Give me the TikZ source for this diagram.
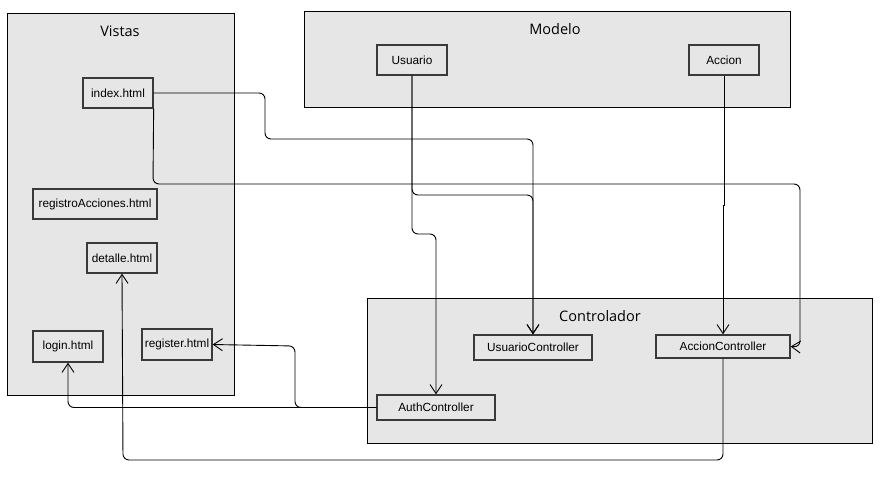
\documentclass[tikz,border=0pt]{standalone}
\usepackage{fontspec}
\setmainfont{Liberation Sans}
\newfontfamily\titlefont{Open Sans}
\usetikzlibrary{arrows.meta}
\definecolor{boxgray}{HTML}{E6E6E6}
\definecolor{edgegray}{HTML}{3A3A3A}
\tikzset{
  container/.style={draw=black, fill=boxgray, line width=1pt},
  ctitle/.style={font=\titlefont\fontsize{14.5}{16}\selectfont, inner sep=0pt},
  cls/.style={draw=edgegray, fill=boxgray, line width=1.3pt, inner sep=0pt,
    font=\fontsize{11.8}{13}\selectfont},
  conn/.style={draw=black, line width=0.9pt, rounded corners=6pt,
    -{Straight Barb[length=9pt,width=12pt,line width=0.9pt]}}
}
\begin{document}
\begin{tikzpicture}[x=1pt,y=-1pt]
\useasboundingbox (0,0) rectangle (892,477);
\fill[white] (0,0) rectangle (892,477);
% containers
\node[container, minimum width=227pt, minimum height=382pt, inner sep=0pt, anchor=north west] (vistas) at (7,13) {};
\node[container, minimum width=486pt, minimum height=96pt, inner sep=0pt, anchor=north west] (modelo) at (304,11) {};
\node[container, minimum width=505pt, minimum height=145pt, inner sep=0pt, anchor=north west] (ctrl) at (367,298) {};
\node[ctitle] (tv) at (120,31) {Vistas};
\node[ctitle] (tm) at (555,29) {Modelo};
\node[ctitle] (tc) at (600,316) {Controlador};
% views
\node[cls, minimum width=70pt, minimum height=30pt] (idx) at (118,93) {index.html};
\node[cls, minimum width=124pt, minimum height=30pt] (reg) at (95,204) {registroAcciones.html};
\node[cls, minimum width=70pt, minimum height=30pt] (det) at (122,258) {detalle.html};
\node[cls, minimum width=70pt, minimum height=31pt] (login) at (68,346.5) {login.html};
\node[cls, minimum width=70pt, minimum height=31pt] (regh) at (177,344.5) {register.html};
% model
\node[cls, minimum width=70pt, minimum height=30pt] (usu) at (412,60) {Usuario};
\node[cls, minimum width=70pt, minimum height=30pt] (acc) at (724,60) {Accion};
% controllers
\node[cls, minimum width=118pt, minimum height=25pt] (uc) at (533,347.5) {UsuarioController};
\node[cls, minimum width=134pt, minimum height=23pt] (ac) at (723,346.5) {AccionController};
\node[cls, minimum width=118pt, minimum height=25pt] (auth) at (436,407.5) {AuthController};
% connectors
\draw[conn] (idx.east) -- (265,93) -- (265,139) -| (uc.north);
\draw[conn] (idx.south east) -- (153,184) -- (800,184) -- (800,347) -- (ac.east);
\draw[conn] (usu.south) -- (412,195) -| (uc.north);
\draw[conn] (usu.south) -- (412,234) -| (auth.north);
\draw[conn, sharp corners] (acc.south) -- (724,205) -- (723,205) -- (ac.north);
\draw[conn] (auth.west) -- (295,407.5) -- (295,346) -- (regh.east);
\draw[conn] (auth.west) -| (login.south);
\draw[conn] (ac.south) |- (123,460) -- (det.south);
\end{tikzpicture}
\end{document}
